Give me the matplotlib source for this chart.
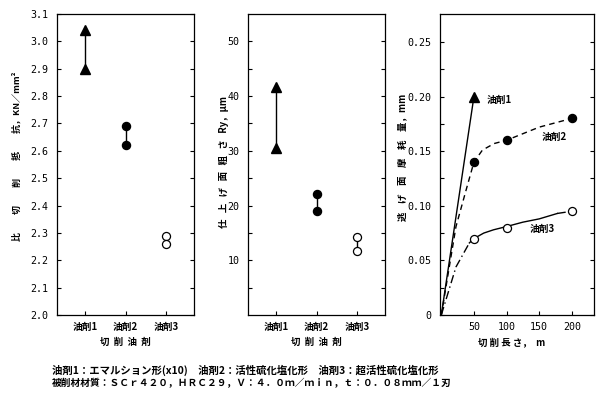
import matplotlib
matplotlib.use("Agg")
import matplotlib.pyplot as plt

plt.rcParams['font.family'] = ['Noto Sans CJK JP', 'DejaVu Sans']

# ---- data ----
categories = ["油剤1", "油剤2", "油剤3"]
cat_pos = [1, 2, 3]

resist_hi = [3.04, 2.69, 2.29]
resist_lo = [2.90, 2.62, 2.26]

rough_hi = [41.7, 22.2, 14.3]
rough_lo = [30.5, 19.0, 11.7]

# wear points
oil1_x = [50]
oil1_y = [0.20]
oil2_x = [50, 100, 200]
oil2_y = [0.14, 0.16, 0.18]
oil3_x = [50, 100, 200]
oil3_y = [0.07, 0.08, 0.095]

# traced curves
oil1_curve_x = [0, 50]
oil1_curve_y = [0, 0.20]
oil2_curve_x = [0, 22.5, 37.8, 50, 63, 81, 100, 125, 150, 175, 200]
oil2_curve_y = [0, 0.081, 0.114, 0.14, 0.151, 0.157, 0.160, 0.166, 0.172, 0.176, 0.18]
oil3_dd1_x = [0, 22.5, 43]
oil3_dd1_y = [0, 0.044, 0.066]
oil3_solid_x = [43, 50, 65, 80, 100, 125, 150, 178]
oil3_solid_y = [0.066, 0.070, 0.075, 0.078, 0.081, 0.085, 0.088, 0.093]
oil3_dd2_x = [178, 200]
oil3_dd2_y = [0.093, 0.095]

p1_ticks = [2.0, 2.1, 2.2, 2.3, 2.4, 2.5, 2.6, 2.7, 2.8, 2.9, 3.0, 3.1]
p2_ticks = [5, 10, 15, 20, 25, 30, 35, 40, 45, 50]
p2_labels = ["", "10", "", "20", "", "30", "", "40", "", "50"]
p3_yticks = [0, 0.025, 0.05, 0.075, 0.10, 0.125, 0.15, 0.175, 0.20, 0.225, 0.25]
p3_ylabels = ["0", "", "0.05", "", "0.10", "", "0.15", "", "0.20", "", "0.25"]
p3_xticks = [50, 100, 150, 200]

note1 = "油剤1：エマルション形(x10)　油剤2：活性硫化塩化形　油剤3：超活性硫化塩化形"
note2 = "被削材材質：ＳＣｒ４２０，ＨＲＣ２９，Ｖ：４．０ｍ／ｍｉｎ，ｔ：０．０８ｍｍ／１刃"

W, H = 602, 394
fig = plt.figure(figsize=(W / 100, H / 100), dpi=100)

def rect(l, r, t, b):
    return [l / W, 1 - b / H, (r - l) / W, (b - t) / H]

ax1 = fig.add_axes(rect(57, 194, 14, 315))
ax2 = fig.add_axes(rect(248, 385, 14, 315))
ax3 = fig.add_axes(rect(440, 594, 14, 315))

mono = ['DejaVu Sans Mono']
for ax in (ax1, ax2, ax3):
    ax.tick_params(direction='in', length=3, width=0.8, right=True, top=False,
                   labelsize=7.2)
    ax.tick_params(axis='y', pad=6)
    ax.tick_params(axis='x', pad=5)
    for s in ax.spines.values():
        s.set_linewidth(0.9)

MS_T, MS_C = 7, 5.8

# panel 1
ax1.vlines(cat_pos[:2], resist_lo[:2], resist_hi[:2], color='black', lw=1)
ax1.plot([1, 1], [resist_hi[0], resist_lo[0]], '^', color='black', ms=MS_T, ls='none')
ax1.plot([2, 2], [resist_hi[1], resist_lo[1]], 'o', color='black', ms=MS_C, ls='none')
ax1.plot([3, 3], [resist_hi[2], resist_lo[2]], 'o', mfc='white', mec='black', mew=0.9, ms=MS_C, ls='none')
ax1.set_xlim(0.3, 3.7)
ax1.set_ylim(2.0, 3.1)
ax1.set_yticks(p1_ticks)
ax1.set_yticklabels([f"{v:.1f}" for v in p1_ticks], family=mono)
ax1.set_xticks(cat_pos)
ax1.set_xticklabels(categories, fontsize=7, fontweight='bold')

# panel 2
ax2.vlines(cat_pos, rough_lo, rough_hi, color='black', lw=1)
ax2.plot([1, 1], [rough_hi[0], rough_lo[0]], '^', color='black', ms=MS_T, ls='none')
ax2.plot([2, 2], [rough_hi[1], rough_lo[1]], 'o', color='black', ms=MS_C, ls='none')
ax2.plot([3, 3], [rough_hi[2], rough_lo[2]], 'o', mfc='white', mec='black', mew=0.9, ms=MS_C, ls='none')
ax2.set_xlim(0.3, 3.7)
ax2.set_ylim(0, 55)
ax2.set_yticks(p2_ticks)
ax2.set_yticklabels(p2_labels, family=mono)
ax2.set_xticks(cat_pos)
ax2.set_xticklabels(categories, fontsize=7, fontweight='bold')

# panel 3
ax3.plot(oil1_curve_x, oil1_curve_y, color='black', lw=1)
ax3.plot(oil1_x, oil1_y, '^', color='black', ms=MS_T)
ax3.plot(oil2_curve_x, oil2_curve_y, color='black', lw=1, ls=(0, (4, 3)))
ax3.plot(oil2_x, oil2_y, 'o', color='black', ms=MS_C)
ax3.plot(oil3_dd1_x, oil3_dd1_y, color='black', lw=1, ls=(0, (6, 2.5, 1, 2.5)))
ax3.plot(oil3_solid_x, oil3_solid_y, color='black', lw=1)
ax3.plot(oil3_dd2_x, oil3_dd2_y, color='black', lw=1, ls=(0, (6, 2.5, 1, 2.5)))
ax3.plot(oil3_x, oil3_y, 'o', mfc='white', mec='black', mew=0.9, ms=MS_C)
ax3.set_xlim(-2, 234)
ax3.set_ylim(0, 0.2756)
ax3.set_yticks(p3_yticks)
ax3.set_yticklabels(p3_ylabels, family=mono)
ax3.set_xticks(p3_xticks)
ax3.set_xticklabels([str(v) for v in p3_xticks], family=mono)
ax3.text(70, 0.197, "油剤1", fontsize=7, fontweight='bold', va='center')
ax3.text(153, 0.163, "油剤2", fontsize=7, fontweight='bold', va='center')
ax3.text(136, 0.079, "油剤3", fontsize=7, fontweight='bold', va='center')

# axis titles
lab = dict(fontsize=6.8, fontweight='bold', ha='center', va='center')
fig.text(17 / W, 1 - 156 / H, "比　　切　　削　　抵　　抗，KN／mm²", rotation=90,
         **{**lab, 'fontsize': 6.5})
fig.text(224 / W, 1 - 162 / H, "仕   上   げ   面   粗   さ   Ry，μm", rotation=90, **lab)
fig.text(402 / W, 1 - 157 / H, "逃    げ    面    摩    耗    量，mm", rotation=90, **lab)
fig.text(125 / W, 1 - 342 / H, "切  削  油  剤", **lab)
fig.text(316 / W, 1 - 342 / H, "切  削  油  剤", **lab)
fig.text(512 / W, 1 - 342 / H, "切 削 長 さ，  m", **lab)

fig.text(52 / W, 1 - 370 / H, note1, fontsize=7.45, fontweight='bold', ha='left', va='center')
fig.text(52 / W, 1 - 383 / H, note2, fontsize=7.0, fontweight='bold', ha='left', va='center')

fig.savefig("out.png", dpi=100)
